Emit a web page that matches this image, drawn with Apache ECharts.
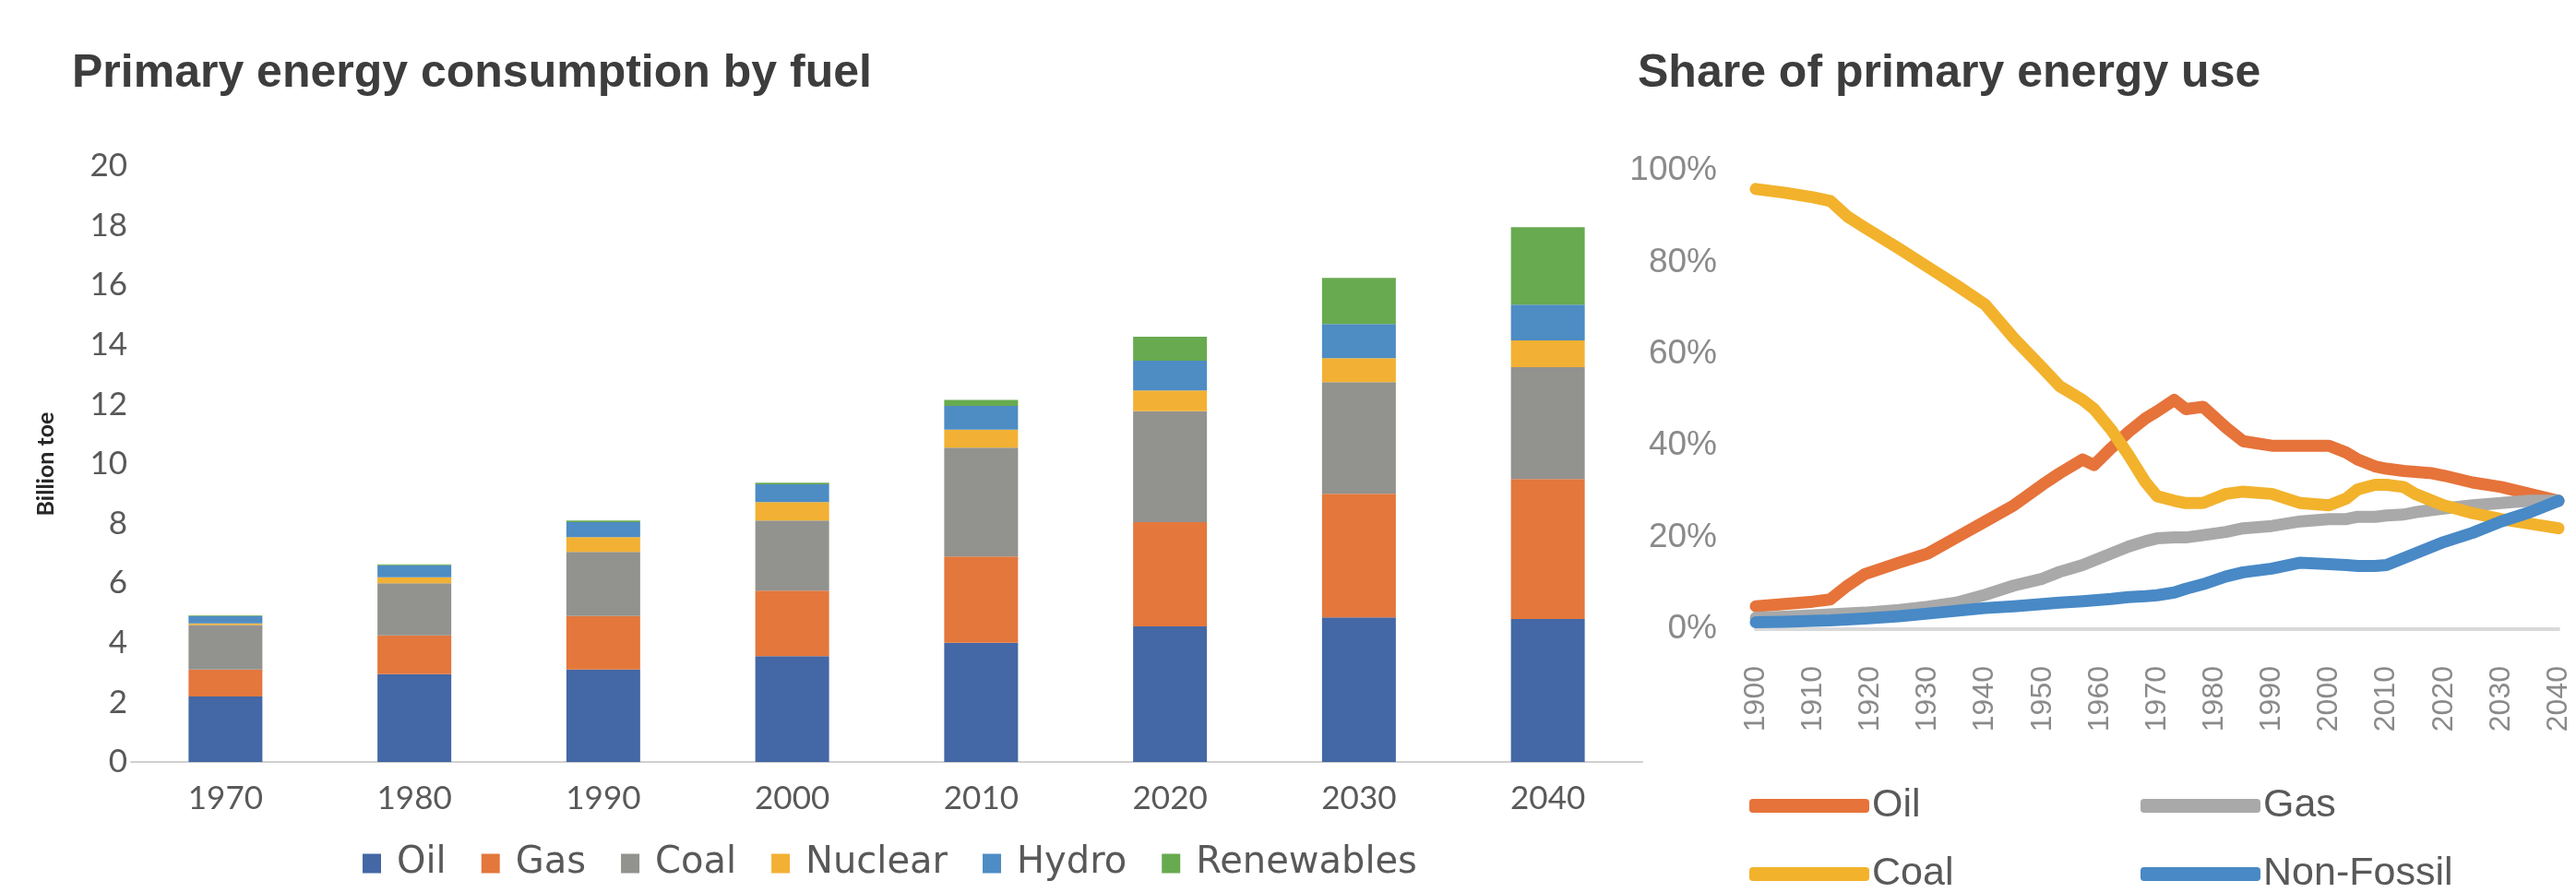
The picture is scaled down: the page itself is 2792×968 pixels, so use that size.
<!DOCTYPE html>
<html>
<head>
<meta charset="utf-8">
<script src="https://cdn.jsdelivr.net/npm/echarts@6/dist/echarts.min.js"></script>
<style>
html,body{margin:0;padding:0;background:#fff;}
#chart{width:2792px;height:968px;}
</style>
</head>
<body>
<div id="chart"></div>
<script>
// ---- Left chart: Primary energy consumption by fuel (billion toe) ----
const barCategories = ['1970','1980','1990','2000','2010','2020','2030','2040'];
const fuelNames = ['Oil','Gas','Coal','Nuclear','Hydro','Renewables'];
const oil        = [2.2, 2.95, 3.1, 3.55, 4.0, 4.55, 4.85, 4.8];
const gas        = [0.9, 1.3, 1.8, 2.2, 2.9, 3.5, 4.15, 4.7];
const coal       = [1.5, 1.75, 2.15, 2.35, 3.65, 3.72, 3.75, 3.75];
const nuclear    = [0.05, 0.2, 0.5, 0.62, 0.6, 0.7, 0.8, 0.9];
const hydro      = [0.25, 0.4, 0.5, 0.6, 0.8, 1.0, 1.15, 1.2];
const renewables = [0.02, 0.03, 0.05, 0.05, 0.2, 0.8, 1.55, 2.6];
const yTicksLeft = [0, 2, 4, 6, 8, 10, 12, 14, 16, 18, 20];

// ---- Right chart: Share of primary energy use (%) ----
const shareYears = [1900,1905,1910,1913,1916,1919,1925,1930,1935,1940,1945,1950,1953,1957,1959,1962,1965,1968,1970,1973,1975,1978,1982,1985,1990,1995,2000,2003,2005,2008,2010,2013,2015,2018,2020,2025,2030,2035,2040];
const shareOil   = [5,5.5,6,6.5,9.5,12,14.5,16.5,20,23.5,27,31.5,34,37,35.8,39.5,43,46,47.5,50,48,48.5,44,41,40,40,40,38.5,37,35.5,35,34.5,34.3,34,33.5,32,31,29.5,28];
const shareGas   = [2.5,2.7,3,3.2,3.4,3.6,4.2,4.9,5.8,7.5,9.5,11,12.5,14,15,16.5,18,19.2,19.8,20,20,20.5,21.2,22,22.5,23.5,24,24,24.5,24.5,24.8,25,25.5,26,26.3,27,27.5,28,28];
const shareCoal  = [96,95.2,94.2,93.4,90,87.6,83,79,75,70.8,63.5,57,53,50,48,43.5,38,32,29,28,27.5,27.5,29.5,30,29.5,27.5,27,28.5,30.5,31.5,31.5,31,29.5,28,27,25.3,24,23,22];
const shareNonFossil = [1.5,1.6,1.8,1.9,2.1,2.3,2.8,3.4,4,4.6,5,5.5,5.8,6.1,6.3,6.6,7,7.2,7.4,8,8.8,9.8,11.5,12.4,13.2,14.5,14.2,14,13.8,13.8,14,15.5,16.5,18,19,21,23.5,25.5,28];
const shareNames = ['Oil','Gas','Coal','Non-Fossil'];
const yTicksRight = [0, 20, 40, 60, 80, 100];

const barColors = ['#4467A5','#E3773C','#92928E','#F2B134','#4E8CC4','#68AA50'];
const lineColors = {'Oil':'#E6733A','Gas':'#A9A9A9','Coal':'#F2B22C','Non-Fossil':'#4889C6'};
const SUFFIX = ' share';

const barData = [oil, gas, coal, nuclear, hydro, renewables];
const barSeries = fuelNames.map((n, i) => ({
  name: n,
  type: 'bar',
  stack: 'total',
  xAxisIndex: 0,
  yAxisIndex: 0,
  barWidth: 80,
  itemStyle: { color: barColors[i] },
  data: barData[i]
}));

const shareData = [shareOil, shareGas, shareCoal, shareNonFossil];
const lineSeries = shareNames.map((n, i) => ({
  name: n + SUFFIX,
  type: 'line',
  xAxisIndex: 1,
  yAxisIndex: 1,
  showSymbol: false,
  symbol: 'none',
  smooth: false,
  lineStyle: { width: 13, color: lineColors[n], cap: 'round', join: 'round' },
  itemStyle: { color: lineColors[n] },
  data: shareYears.map((y, k) => [y, shareData[i][k]])
}));

// one legend component per share-line entry (2 x 2 layout)
const shareLegendPos = { 'Oil': [1891, 847], 'Gas': [2315, 847], 'Coal': [1891, 921], 'Non-Fossil': [2315, 921] };
const shareLegends = shareNames.map(n => ({
  data: [n + SUFFIX], left: shareLegendPos[n][0], top: shareLegendPos[n][1],
  icon: 'roundRect', itemWidth: 130, itemHeight: 15,
  formatter: s => s.replace(SUFFIX, ''),
  textStyle: { fontFamily: 'Liberation Sans', fontSize: 43, color: '#595959', padding: [0,0,0,-2] }
}));

const chart = echarts.init(document.getElementById('chart'), null, { renderer: 'canvas' });
chart.setOption({
  backgroundColor: '#ffffff',
  animation: false,
  title: [
    { text: 'Primary energy consumption by fuel', left: 73, top: 50,
      textStyle: { fontFamily: 'Liberation Sans', fontWeight: 'bold', fontSize: 50, color: '#3d3d3d' } },
    { text: 'Share of primary energy use', left: 1770, top: 50,
      textStyle: { fontFamily: 'Liberation Sans', fontWeight: 'bold', fontSize: 50, color: '#3d3d3d' } }
  ],
  grid: [
    { left: 142, right: 1012, top: 180, bottom: 142, containLabel: false },
    { left: 1903, right: 19, top: 185, bottom: 286, containLabel: false }
  ],
  xAxis: [
    { type: 'category', gridIndex: 0, data: barCategories,
      axisLine: { lineStyle: { color: '#d0d0d0', width: 2 } },
      axisTick: { show: false },
      axisLabel: { fontFamily: 'Lato', fontSize: 35, color: '#595959', margin: 22 },
      splitLine: { show: false } },
    { type: 'value', gridIndex: 1, min: 1900, max: 2040, interval: 10,
      axisLine: { show: true, onZero: false, lineStyle: { color: '#d9d9d9', width: 4 } },
      axisTick: { show: false },
      axisLabel: { rotate: 90, fontFamily: 'Liberation Sans', fontSize: 32, color: '#8a8a8a', margin: 40,
        formatter: v => String(v) },
      splitLine: { show: false } }
  ],
  yAxis: [
    { type: 'value', gridIndex: 0, min: 0, max: 20, interval: 2,
      name: 'Billion toe', nameLocation: 'middle', nameGap: 80, nameRotate: 90,
      nameTextStyle: { fontFamily: 'Lato', fontWeight: 'bold', fontSize: 25, color: '#262626' },
      axisLine: { show: false }, axisTick: { show: false },
      axisLabel: { fontFamily: 'Lato', fontSize: 35, color: '#595959', margin: 4,
        formatter: v => (yTicksLeft.indexOf(v) >= 0 ? String(v) : '') },
      splitLine: { show: false } },
    { type: 'value', gridIndex: 1, min: 0, max: 100, interval: 20,
      axisLine: { show: false }, axisTick: { show: false },
      axisLabel: { fontFamily: 'Liberation Sans', fontSize: 37, color: '#8a8a8a', margin: 42,
        formatter: v => (yTicksRight.indexOf(v) >= 0 ? v + '%' : '') },
      splitLine: { show: false } }
  ],
  legend: [
    { data: fuelNames, left: 388, top: 911, orient: 'horizontal',
      icon: 'rect', itemWidth: 20, itemHeight: 21, itemGap: 38,
      textStyle: { fontFamily: 'DejaVu Sans', fontSize: 40, color: '#595959', padding: [0,0,0,12] } }
  ].concat(shareLegends),
  series: barSeries.concat(lineSeries)
});
</script>
</body>
</html>
